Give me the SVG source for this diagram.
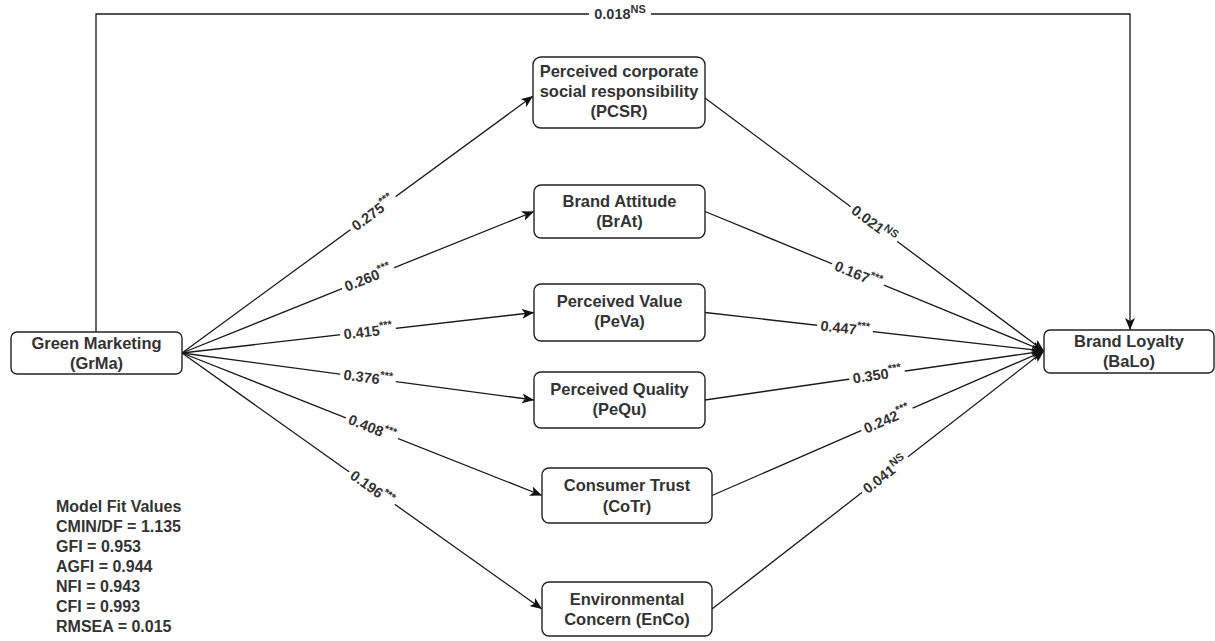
<svg xmlns="http://www.w3.org/2000/svg" width="1215" height="641" viewBox="0 0 1215 641">
<style>
.box{fill:#fff;stroke:#222;stroke-width:1.4}
.nt{font-family:"Liberation Sans",Arial,sans-serif;font-size:16.5px;font-weight:bold;fill:#333;text-anchor:middle}
.ln{fill:none;stroke:#1a1a1a;stroke-width:1.3}
.lbl{font-family:"Liberation Sans",Arial,sans-serif;font-size:14.5px;font-weight:bold;fill:#333;text-anchor:middle}
.sup{font-size:11px}
.bg{fill:#fff}
.fit{font-family:"Liberation Sans",Arial,sans-serif;font-size:16px;font-weight:bold;fill:#333}
</style>
<defs>
<marker id="arr" viewBox="0 0 12 10" refX="12" refY="5" markerWidth="12" markerHeight="10" orient="auto" markerUnits="userSpaceOnUse">
<path d="M0,0 L12,5 L0,10 L3,5 z" fill="#111"/>
</marker>
</defs>
<rect width="1215" height="641" fill="#fff"/>
<g id="connectors">
<path class="ln" d="M96,332 V14 H1130 V330" marker-end="url(#arr)"/>
<line class="ln" x1="182" y1="353" x2="533" y2="96" marker-end="url(#arr)"/>
<line class="ln" x1="182" y1="353" x2="534" y2="211.5" marker-end="url(#arr)"/>
<line class="ln" x1="182" y1="353" x2="534" y2="312.5" marker-end="url(#arr)"/>
<line class="ln" x1="182" y1="353" x2="534" y2="400" marker-end="url(#arr)"/>
<line class="ln" x1="182" y1="353" x2="542" y2="495.5" marker-end="url(#arr)"/>
<line class="ln" x1="182" y1="353" x2="542" y2="609" marker-end="url(#arr)"/>
<line class="ln" x1="705" y1="98" x2="1044" y2="351" marker-end="url(#arr)"/>
<line class="ln" x1="705" y1="211.5" x2="1044" y2="351" marker-end="url(#arr)"/>
<line class="ln" x1="705" y1="312.5" x2="1044" y2="351" marker-end="url(#arr)"/>
<line class="ln" x1="705" y1="400" x2="1044" y2="351" marker-end="url(#arr)"/>
<line class="ln" x1="712" y1="495.5" x2="1044" y2="351" marker-end="url(#arr)"/>
<line class="ln" x1="712" y1="609" x2="1044" y2="351" marker-end="url(#arr)"/>
<g transform="translate(620,14)"><rect class="bg" x="-31" y="-9" width="62" height="17"/><text class="lbl" y="5">0.018<tspan class="sup" dy="-6">NS</tspan></text></g>
<g transform="translate(373,213) rotate(-36.2)"><rect class="bg" x="-28" y="-9" width="56" height="17"/><text class="lbl" y="5">0.275<tspan class="sup" dy="-6">***</tspan></text></g>
<g transform="translate(368,278) rotate(-21.9)"><rect class="bg" x="-28" y="-9" width="56" height="17"/><text class="lbl" y="5">0.260<tspan class="sup" dy="-6">***</tspan></text></g>
<g transform="translate(368,331.6) rotate(-6.56)"><rect class="bg" x="-28" y="-9" width="56" height="17"/><text class="lbl" y="5">0.415<tspan class="sup" dy="-6">***</tspan></text></g>
<g transform="translate(368,377.8) rotate(7.6)"><rect class="bg" x="-28" y="-9" width="56" height="17"/><text class="lbl" y="5">0.376<tspan class="sup" dy="-6">***</tspan></text></g>
<g transform="translate(372,428) rotate(21.6)"><rect class="bg" x="-28" y="-9" width="56" height="17"/><text class="lbl" y="5">0.408<tspan class="sup" dy="-6">***</tspan></text></g>
<g transform="translate(372,488) rotate(35.4)"><rect class="bg" x="-28" y="-9" width="56" height="17"/><text class="lbl" y="5">0.196<tspan class="sup" dy="-6">***</tspan></text></g>
<g transform="translate(874,224) rotate(36.7)"><rect class="bg" x="-29" y="-9" width="58" height="17"/><text class="lbl" y="5">0.021<tspan class="sup" dy="-6">NS</tspan></text></g>
<g transform="translate(858,274.5) rotate(22.4)"><rect class="bg" x="-28" y="-9" width="56" height="17"/><text class="lbl" y="5">0.167<tspan class="sup" dy="-6">***</tspan></text></g>
<g transform="translate(845,328.4) rotate(6.5)"><rect class="bg" x="-28" y="-9" width="56" height="17"/><text class="lbl" y="5">0.447<tspan class="sup" dy="-6">***</tspan></text></g>
<g transform="translate(877,375) rotate(-8.2)"><rect class="bg" x="-28" y="-9" width="56" height="17"/><text class="lbl" y="5">0.350<tspan class="sup" dy="-6">***</tspan></text></g>
<g transform="translate(887,419.3) rotate(-23.5)"><rect class="bg" x="-28" y="-9" width="56" height="17"/><text class="lbl" y="5">0.242<tspan class="sup" dy="-6">***</tspan></text></g>
<g transform="translate(885,474.6) rotate(-37.8)"><rect class="bg" x="-29" y="-9" width="58" height="17"/><text class="lbl" y="5">0.041<tspan class="sup" dy="-6">NS</tspan></text></g>
</g>
<g id="GrMa"><rect class="box" x="11" y="332" width="171" height="42" rx="6"/><text class="nt" x="96.5" y="349">Green Marketing</text><text class="nt" x="96.5" y="368.5">(GrMa)</text></g>
<g id="PCSR"><rect class="box" x="533" y="57" width="172" height="71" rx="8"/><text class="nt" x="619" y="77">Perceived corporate</text><text class="nt" x="619" y="97">social responsibility</text><text class="nt" x="619" y="117">(PCSR)</text></g>
<g id="BrAt"><rect class="box" x="534" y="185" width="171" height="53" rx="7"/><text class="nt" x="619.5" y="206.5">Brand Attitude</text><text class="nt" x="619.5" y="226.5">(BrAt)</text></g>
<g id="PeVa"><rect class="box" x="534" y="284" width="171" height="57" rx="7"/><text class="nt" x="619.5" y="306.5">Perceived Value</text><text class="nt" x="619.5" y="327">(PeVa)</text></g>
<g id="PeQu"><rect class="box" x="534" y="372" width="171" height="56" rx="7"/><text class="nt" x="619.5" y="395">Perceived Quality</text><text class="nt" x="619.5" y="415">(PeQu)</text></g>
<g id="CoTr"><rect class="box" x="542" y="468" width="170" height="55" rx="7"/><text class="nt" x="627" y="491">Consumer Trust</text><text class="nt" x="627" y="511.5">(CoTr)</text></g>
<g id="EnCo"><rect class="box" x="542" y="582" width="170" height="54" rx="7"/><text class="nt" x="627" y="605">Environmental</text><text class="nt" x="627" y="625">Concern (EnCo)</text></g>
<g id="BaLo"><rect class="box" x="1044" y="330" width="170" height="43" rx="6"/><text class="nt" x="1129" y="346.5">Brand Loyalty</text><text class="nt" x="1129" y="366.5">(BaLo)</text></g>
<g id="fit">
<text class="fit" x="56" y="512">Model Fit Values</text>
<text class="fit" x="56" y="532">CMIN/DF = 1.135</text>
<text class="fit" x="56" y="552">GFI = 0.953</text>
<text class="fit" x="56" y="571.5">AGFI = 0.944</text>
<text class="fit" x="56" y="591.5">NFI = 0.943</text>
<text class="fit" x="56" y="611.5">CFI = 0.993</text>
<text class="fit" x="56" y="631.5">RMSEA = 0.015</text>
</g>
</svg>
